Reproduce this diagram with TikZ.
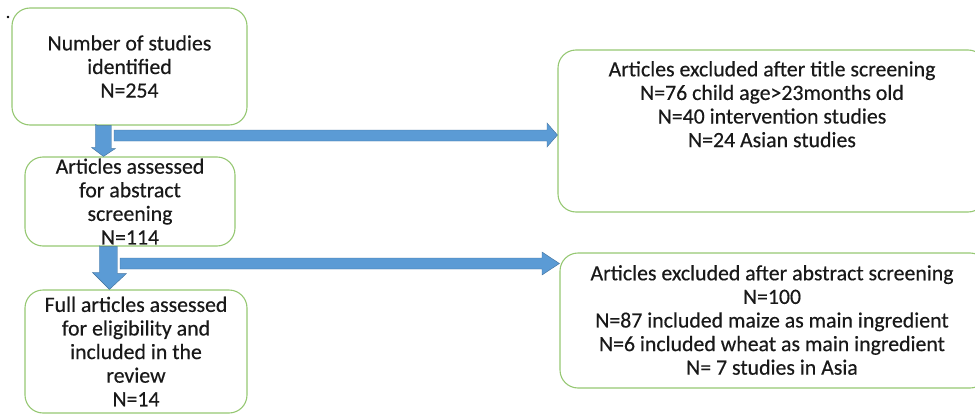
\documentclass[tikz,border=0pt]{standalone}
\usepackage{fontspec}
\setmainfont{Carlito}[FakeBold=0.4]
\usetikzlibrary{calc}
\definecolor{boxgreen}{RGB}{150,200,115}
\definecolor{arrowblue}{RGB}{91,155,213}
\definecolor{arrowedge}{RGB}{65,113,156}
\definecolor{txt}{RGB}{25,25,25}
\begin{document}
\begin{tikzpicture}[x=1pt,y=-1pt,
  box/.style={draw=boxgreen,line width=1.1pt,rounded corners=18pt,fill=white},
  txtnode/.style={align=center,font=\fontsize{21.8}{23.6}\selectfont,text=txt,inner sep=0pt},
  blockarrow/.style={fill=arrowblue,draw=arrowedge,line width=0.4pt}]
\useasboundingbox (0,0) rectangle (975,415);
\fill[black] (8,17) circle (1.3pt);
% boxes
\node[box,minimum width=235pt,minimum height=117pt] (b1) at (129.5,66.5) {};
\node[box,minimum width=210pt,minimum height=89pt] (b2) at (130,201.5) {};
\node[box,minimum width=222pt,minimum height=123pt] (b3) at (136,351.5) {};
\node[box,minimum width=428pt,minimum height=162pt] (b4) at (772,131) {};
\node[box,minimum width=428pt,minimum height=135pt] (b5) at (774,320.5) {};
% texts
\node[txtnode] (t1) at (b1.center) {Number of studies\\identified\\N=254};
\node[txtnode] (t2) at (b2.center) {Articles assessed\\for abstract\\screening\\N=114};
\node[txtnode] (t3) at (b3.center) {Full articles assessed\\for eligibility and\\included in the\\review\\N=14};
\node[txtnode,anchor=north] (t4) at (772,61) {Articles excluded after title screening\\N=76 child age>23months old\\N=40 intervention studies\\N=24 Asian studies};
\node[txtnode] (t5) at (772,320) {Articles excluded after abstract screening\\N=100\\N=87 included maize as main ingredient\\N=6 included wheat as main ingredient\\N= 7 studies in Asia};
% down arrow 1
\draw[blockarrow] ($(b1.south west)+(86,0)$) -- ($(b1.south west)+(100,0)$) -- ++(0,23) -- ++(4,0)
  -- ($(b2.north west)+(79,0)$) -- ++(-12,-9) -- ++(4,0) -- ++(0,-23) -- cycle;
% horizontal arrow 1
\draw[blockarrow] (114,130) -- (547,130) -- (547,123) -- (b4.west |- 0,135) -- (547,147) -- (547,141) -- (114,141) -- cycle;
% down arrow 2
\draw[blockarrow] ($(b2.south west)+(75,0)$) -- ($(b2.south west)+(93,0)$) -- ++(0,27) -- ++(9,0)
  -- ($(b3.north west)+(85,0)$) -- ++(-17,-17) -- ++(7,0) -- ++(0,-27) -- cycle;
% horizontal arrow 2
\draw[blockarrow] (120,258) -- (542,258) -- (542,252) -- (b5.west |- 0,263.5) -- (542,275) -- (542,269) -- (120,269) -- cycle;
\end{tikzpicture}
\end{document}
